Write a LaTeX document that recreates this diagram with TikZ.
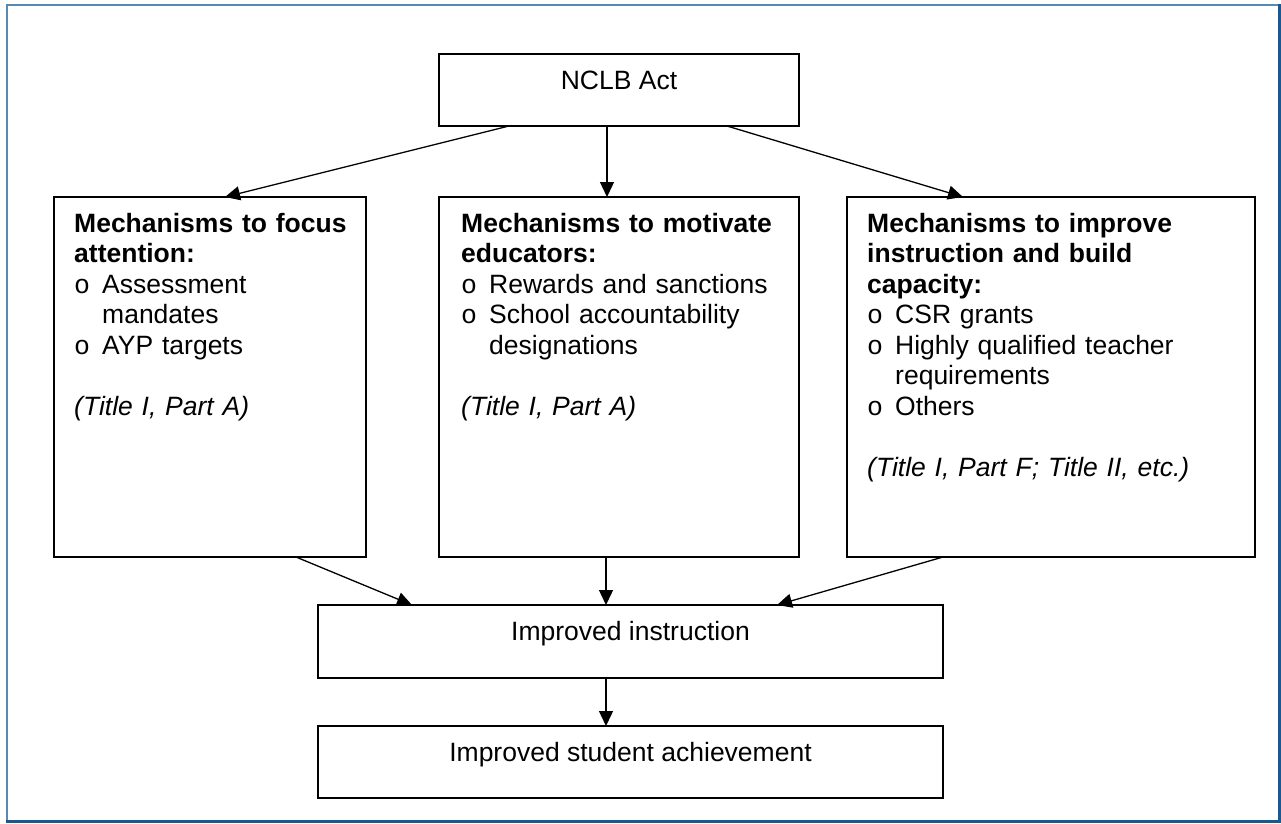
\documentclass[tikz,border=0pt]{standalone}
\usepackage{fontspec}
\setmainfont{Liberation Sans}
\newfontfamily\monof{Liberation Mono}
\usetikzlibrary{arrows.meta}
\definecolor{frameL}{RGB}{86,138,182}
\definecolor{frameD}{RGB}{25,89,143}
\newcommand{\bul}{\makebox[28pt][l]{\monof o}}
\newcommand{\ind}{\hspace*{28pt}}
\begin{document}
\begin{tikzpicture}[x=1pt,y=-1pt,
  box/.style={draw, line width=1.6pt, inner sep=0pt, outer sep=0pt, rectangle},
  arr/.style={line width=1.3pt, -{Triangle[length=15pt,width=14pt]}},
  ttl/.style={font=\fontsize{26.5}{30.5}\selectfont, inner sep=0pt, anchor=base},
  body/.style={font=\fontsize{26.5}{30.5}\selectfont, inner sep=0pt, anchor=base west, align=left},
]
\useasboundingbox (0,0) rectangle (1281,823);
\draw[frameL, line width=2pt] (7,822) -- (7,5) -- (1280,5);
\draw[frameD, line width=3pt] (1279.5,4) -- (1279.5,821.5) -- (6,821.5);

\node[box, minimum width=360pt, minimum height=72pt] (nclb) at (619,90) {};
\node[box, minimum width=312pt, minimum height=360pt] (focus) at (210,377) {};
\node[box, minimum width=360pt, minimum height=360pt] (motiv) at (619,377) {};
\node[box, minimum width=408pt, minimum height=360pt] (impr) at (1051,377) {};
\node[box, minimum width=625pt, minimum height=73pt] (instr) at (630.5,641.5) {};
\node[box, minimum width=625pt, minimum height=72pt] (achv) at (630.5,762) {};

\node[ttl] (nclbt) at ([yshift=-35pt]nclb.north) {NCLB Act};
\node[ttl] (instrt) at ([yshift=-35pt]instr.north) {Improved instruction};
\node[ttl] (achvt) at ([yshift=-35pt]achv.north) {Improved student achievement};

\node[body, text width=290pt] (focust) at ([xshift=20pt,yshift=-35pt]focus.north west)
  {\textbf{Mechanisms to focus}\\\textbf{attention:}\\\bul Assessment\\\ind mandates\\\bul AYP targets\\[30.5pt]\textit{(Title I, Part A)}};
\node[body, text width=335pt] (motivt) at ([xshift=22pt,yshift=-35pt]motiv.north west)
  {\textbf{Mechanisms to motivate}\\\textbf{educators:}\\\bul Rewards and sanctions\\\bul School accountability\\\ind designations\\[30.5pt]\textit{(Title I, Part A)}};
\node[body, text width=385pt] (imprt) at ([xshift=20pt,yshift=-35pt]impr.north west)
  {\textbf{Mechanisms to improve}\\\textbf{instruction and build}\\\textbf{capacity:}\\\bul CSR grants\\\bul Highly qualified teacher\\\ind requirements\\\bul Others\\[30.5pt]\textit{(Title I, Part F; Title II, etc.)}};

\draw[arr] ([xshift=70pt]nclb.south west) -- ([xshift=171pt]focus.north west);
\draw[arr] ([xshift=168pt]nclb.south west) -- ([xshift=168pt]motiv.north west);
\draw[arr] ([xshift=288pt]nclb.south west) -- ([xshift=116pt]impr.north west);
\draw[arr] ([xshift=242pt]focus.south west) -- ([xshift=94pt]instr.north west);
\draw[arr] ([xshift=167pt]motiv.south west) -- ([xshift=288pt]instr.north west);
\draw[arr] ([xshift=96pt]impr.south west) -- ([xshift=459pt]instr.north west);
\draw[arr] ([xshift=288pt]instr.south west) -- ([xshift=288pt]achv.north west);
\end{tikzpicture}
\end{document}
